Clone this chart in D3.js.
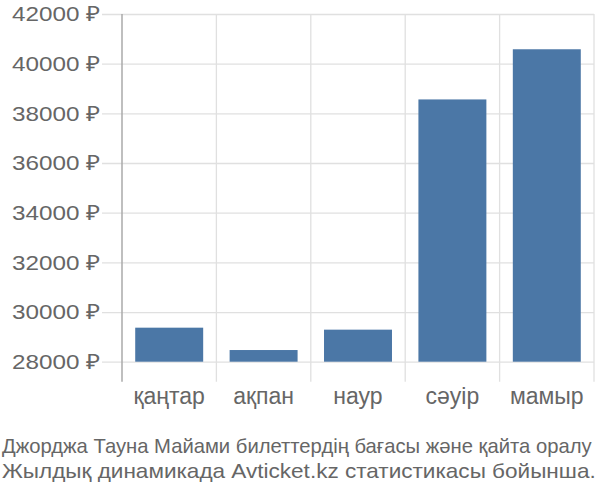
<!DOCTYPE html>
<html>
<head>
<meta charset="utf-8">
<script src="https://cdn.jsdelivr.net/npm/d3@7"></script>
<style>
  body { margin: 0; background: #fff; }
  svg { display: block; }
</style>
</head>
<body>
<div id="chart"></div>
<script>
// data
const MONTHS = ["қаңтар", "ақпан", "наур", "сәуір", "мамыр"];
const PRICES = [29370, 28470, 29290, 38560, 40580];
const Y_TICKS = [28000, 30000, 32000, 34000, 36000, 38000, 40000, 42000];
const TITLE_LINES = ["Джорджа Тауна Майами билеттердің бағасы және қайта оралу",
                     "Жылдық динамикада Avticket.kz статистикасы бойынша."];

const FRAME_WIDTH = 600;
const FRAME_HEIGHT = 500;
const PLOT = {left: 122, right: 594, top: 14, base: 361.7, bottom: 381.7};
const FONT = "'Liberation Sans', Arial, sans-serif";

const SVG = d3.select("#chart")
              .append("svg")
                .attr("width", FRAME_WIDTH)
                .attr("height", FRAME_HEIGHT);

// scales
const X_SCALE = d3.scaleBand()
                  .domain(MONTHS)
                  .range([PLOT.left, PLOT.right])
                  .paddingInner(0.28)
                  .paddingOuter(0.14);
const X_GRID = d3.scaleBand()
                 .domain(MONTHS)
                 .range([PLOT.left, PLOT.right]);
const Y_SCALE = d3.scaleLinear()
                  .domain([28000, 42000])
                  .range([PLOT.base, PLOT.top]);

// horizontal gridlines + labels (labels are a bit wide in the reference)
SVG.append("g")
    .attr("transform", "translate(" + PLOT.right + ",0)")
    .call(d3.axisLeft(Y_SCALE).tickValues(Y_TICKS)
            .tickSize(PLOT.right - 102)
            .tickPadding(2)
            .tickFormat(d => d + " ₽"))
    .call(g => g.select(".domain").remove())
    .call(g => g.selectAll(".tick line").attr("stroke", "#e0e0e0").attr("stroke-width", 1.3))
    .call(g => g.selectAll(".tick text")
                .attr("fill", "#666")
                .attr("font-family", FONT)
                .attr("font-size", "21px")
                .attr("textLength", 88)
                .attr("lengthAdjust", "spacingAndGlyphs"));

// vertical gridlines at band edges
const edges = MONTHS.map(m => X_GRID(m)).concat([PLOT.right]);
SVG.append("g")
    .selectAll("line")
    .data(edges.slice(1))
    .enter()
    .append("line")
      .attr("x1", d => d).attr("x2", d => d)
      .attr("y1", PLOT.top).attr("y2", PLOT.bottom)
      .attr("stroke", "#e0e0e0")
      .attr("stroke-width", 1.3);

// y axis line
SVG.append("line")
    .attr("x1", PLOT.left).attr("x2", PLOT.left)
    .attr("y1", PLOT.top).attr("y2", PLOT.bottom)
    .attr("stroke", "#aaa")
    .attr("stroke-width", 1.5);

// bars
SVG.selectAll(".bar")
    .data(PRICES)
    .enter()
    .append("rect")
      .attr("class", "bar")
      .attr("x", (d, i) => X_SCALE(MONTHS[i]))
      .attr("y", d => Y_SCALE(d))
      .attr("width", X_SCALE.bandwidth())
      .attr("height", d => Y_SCALE(28000) - Y_SCALE(d))
      .attr("fill", "#4b77a6");

// x labels
SVG.append("g")
    .attr("transform", "translate(0," + PLOT.bottom + ")")
    .call(d3.axisBottom(X_GRID).tickSize(0).tickPadding(6))
    .call(g => g.select(".domain").remove())
    .call(g => g.selectAll(".tick text")
                .attr("fill", "#666")
                .attr("font-family", FONT)
                .attr("font-size", "23px"));

// title, scaled horizontally to the widths seen in the reference
const TITLE_WIDTHS = [590, 594];
SVG.selectAll(".title")
    .data(TITLE_LINES)
    .enter()
    .append("text")
      .attr("class", "title")
      .attr("fill", "#666")
      .attr("font-family", FONT)
      .attr("font-size", "21px")
      .text(d => d)
      .attr("transform", function(d, i) {
          const k = TITLE_WIDTHS[i] / this.getComputedTextLength();
          return "translate(2," + (453 + i * 25) + ") scale(" + k + ",1)";
      });
</script>
</body>
</html>
